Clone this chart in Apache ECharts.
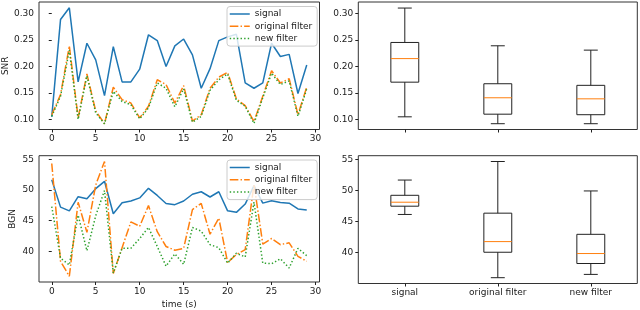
<!DOCTYPE html>
<html><head><meta charset="utf-8">
<script src="https://cdn.jsdelivr.net/npm/echarts@6/dist/echarts.min.js"></script>
<style>html,body{margin:0;padding:0;background:#fff}#c{width:640px;height:310px}</style>
</head><body><div id="c"></div>
<script>
const time = [0,1,2,3,4,5,6,7,8,9,10,11,12,13,14,15,16,17,18,19,20,21,22,23,24,25,26,27,28,29];
const snrSignal = [0.105,0.289,0.311,0.171,0.244,0.2125,0.145,0.2375,0.171,0.171,0.195,0.26,0.249,0.20,0.239,0.252,0.222,0.159,0.196,0.249,0.256,0.261,0.169,0.159,0.169,0.244,0.219,0.223,0.149,0.203];
const snrOriginal = [0.109,0.147,0.239,0.103,0.186,0.116,0.092,0.161,0.1375,0.131,0.103,0.125,0.175,0.166,0.131,0.164,0.097,0.109,0.159,0.18,0.189,0.139,0.126,0.096,0.144,0.192,0.169,0.177,0.109,0.161];
const snrNew = [0.106,0.144,0.231,0.10,0.1825,0.1125,0.092,0.153,0.134,0.128,0.101,0.122,0.169,0.159,0.124,0.158,0.095,0.106,0.155,0.175,0.186,0.136,0.125,0.0925,0.141,0.1875,0.166,0.173,0.106,0.158];
const bgnSignal = [51.65,47.2,46.6,48.9,48.55,50.2,51.4,46.12,47.9,48.2,48.7,50.26,49.1,47.8,47.6,48.2,49.3,49.7,48.85,49.7,46.6,46.35,47.7,50.7,47.85,48.25,47.95,47.85,46.9,46.75];
const bgnOriginal = [54.3,38.4,35.96,48.0,43.1,50.8,54.63,36.4,40.6,44.8,44.1,47.45,43.2,40.8,40.2,40.5,46.8,47.8,42.8,45.4,38.2,39.5,40.3,50.9,41.2,42.1,41.1,41.4,39.2,38.4];
const bgnNew = [47.3,38.9,37.8,45.9,40.1,45.8,49.9,36.5,40.5,40.5,42.1,43.9,40.8,37.6,39.6,37.9,43.9,43.3,41.1,40.6,38.1,39.7,39.1,48.0,38.1,38.0,38.8,37.3,40.5,39.3];

const boxCategories = ['signal','original filter','new filter'];
// [min, q1, median, q3, max]
const snrBoxSignal = [0.105,0.1705,0.215,0.2455,0.3105];
const snrBoxOriginal = [0.092,0.110,0.141,0.1675,0.2392];
const snrBoxNew = [0.092,0.109,0.139,0.1645,0.231];
const bgnBoxSignal = [46.12,47.45,48.09,49.2,51.65];
const bgnBoxOriginal = [35.96,40.05,41.76,46.33,54.63];
const bgnBoxNew = [36.49,38.24,39.84,42.93,49.9];

const xTicks = [0,5,10,15,20,25,30];
const snrTicks = [0.10,0.15,0.20,0.25,0.30];
const bgnTicks = [40,45,50,55];
const seriesNames = ['signal','original filter','new filter'];

const BLUE='#1f77b4', ORANGE='#ff7f0e', GREEN='#2ca02c';
const FONT='DejaVu Sans', TXT='#1a1a1a';
const lw = 1.5;
const dashDot = [8.6,2.2,1.4,2.2];
const dotted = [1.4,2.2];

function padExtent(arrs){
  let lo=Infinity, hi=-Infinity;
  arrs.forEach(a=>a.forEach(v=>{lo=Math.min(lo,v);hi=Math.max(hi,v);}));
  const m=(hi-lo)*0.05; return [lo-m, hi+m];
}
const snrExt = padExtent([snrSignal,snrOriginal,snrNew]);
const bgnExt = padExtent([bgnSignal,bgnOriginal,bgnNew]);
const tExt = padExtent([time]);

function lineSeries(name, vals, color, dash, idx){
  return {type:'line', name, xAxisIndex:idx, yAxisIndex:idx, symbol:'none', showSymbol:false,
    data: time.map((t,i)=>[t, vals[i]]),
    lineStyle:{color, width:lw, type:dash}, itemStyle:{color}, emphasis:{disabled:true}};
}
function boxRender(params, api){
  const ci = api.value(0);
  const lo=api.coord([ci, api.value(1)]), q1=api.coord([ci, api.value(2)]),
        md=api.coord([ci, api.value(3)]), q3=api.coord([ci, api.value(4)]), hi=api.coord([ci, api.value(5)]);
  const band = api.size([1,0])[0];
  const bw = band*0.3, cw = bw/2, cx = lo[0];
  const st = {stroke:'#222', lineWidth:1, fill:null};
  return {type:'group', children:[
    {type:'rect', shape:{x:cx-bw/2, y:q3[1], width:bw, height:q1[1]-q3[1]}, style:{stroke:'#222', lineWidth:1, fill:'none'}},
    {type:'line', shape:{x1:cx,y1:q3[1],x2:cx,y2:hi[1]}, style:st},
    {type:'line', shape:{x1:cx,y1:q1[1],x2:cx,y2:lo[1]}, style:st},
    {type:'line', shape:{x1:cx-cw/2,y1:hi[1],x2:cx+cw/2,y2:hi[1]}, style:st},
    {type:'line', shape:{x1:cx-cw/2,y1:lo[1],x2:cx+cw/2,y2:lo[1]}, style:st},
    {type:'line', shape:{x1:cx-bw/2,y1:md[1],x2:cx+bw/2,y2:md[1]}, style:{stroke:ORANGE, lineWidth:1}}
  ]};
}
function boxSeries(stats, idx){
  return {type:'custom', xAxisIndex:idx, yAxisIndex:idx, renderItem:boxRender,
    encode:{x:0, y:[1,2,3,4,5]},
    data: stats.map((s,i)=>[i, ...s]), silent:true};
}

const axText = {fontFamily:FONT, fontSize:9, color:TXT};
function valueX(idx, showName){
  return {type:'value', gridIndex:idx, min:tExt[0], max:tExt[1],
    splitLine:{show:false}, axisLine:{show:false},
    axisTick:{show:true, length:3, lineStyle:{color:'#222'}, customValues:xTicks},
    axisLabel:Object.assign({margin:5, customValues:xTicks, showMinLabel:true, showMaxLabel:true}, axText),
    name: showName ? 'time (s)' : '', nameLocation:'middle', nameGap:18,
    nameTextStyle:{fontFamily:FONT, fontSize:9, color:TXT}};
}
function catX(idx, showLabels){
  return {type:'category', gridIndex:idx, data:boxCategories, boundaryGap:true,
    splitLine:{show:false}, axisLine:{show:false},
    axisTick:{show:true, length:3, alignWithLabel:true, lineStyle:{color:'#222'}},
    axisLabel:Object.assign({show:showLabels, margin:5, interval:0}, axText)};
}
function valueY(idx, ext, ticks, fmt, name, gap){
  return {type:'value', gridIndex:idx, min:ext[0], max:ext[1],
    splitLine:{show:false}, axisLine:{show:false},
    axisTick:{show:true, length:3, lineStyle:{color:'#222'}, customValues:ticks},
    axisLabel:Object.assign({margin:5, customValues:ticks, formatter:fmt}, axText),
    name:name, nameLocation:'middle', nameRotate:90, nameGap:gap,
    nameTextStyle:{fontFamily:FONT, fontSize:9, color:TXT}};
}
const gridBase = {show:true, borderColor:'#333', borderWidth:1, containLabel:false};
const legendBase = {orient:'vertical', data:seriesNames, itemWidth:20, itemHeight:10, itemGap:3.3,
  padding:[3,5,3,2], backgroundColor:'rgba(255,255,255,0.8)', borderColor:'#cccccc', borderWidth:1, borderRadius:3,
  itemStyle:{opacity:0}, lineStyle:{width:1.5},
  textStyle:{fontFamily:FONT, fontSize:9, color:TXT}, selectedMode:false};

const option = {
  animation:false,
  backgroundColor:'#fff',
  grid:[
    Object.assign({left:39, top:2, width:280.5, height:127.5}, gridBase),
    Object.assign({left:39, top:155.7, width:280.5, height:127.8}, gridBase),
    Object.assign({left:358.3, top:2, width:279, height:127.5}, gridBase),
    Object.assign({left:358.3, top:155.7, width:279, height:127.8}, gridBase)
  ],
  legend:[
    Object.assign({left:227, top:6.5}, legendBase),
    Object.assign({left:227, top:160}, legendBase)
  ],
  xAxis:[valueX(0,false), valueX(1,true), catX(2,false), catX(3,true)],
  yAxis:[
    valueY(0, snrExt, snrTicks, v=>v.toFixed(2), 'SNR', 29),
    valueY(1, bgnExt, bgnTicks, v=>String(v), 'BGN', 22),
    valueY(2, snrExt, snrTicks, v=>v.toFixed(2), '', 0),
    valueY(3, bgnExt, bgnTicks, v=>String(v), '', 0)
  ],
  series:[
    lineSeries('signal', snrSignal, BLUE, 'solid', 0),
    lineSeries('original filter', snrOriginal, ORANGE, dashDot, 0),
    lineSeries('new filter', snrNew, GREEN, dotted, 0),
    lineSeries('signal', bgnSignal, BLUE, 'solid', 1),
    lineSeries('original filter', bgnOriginal, ORANGE, dashDot, 1),
    lineSeries('new filter', bgnNew, GREEN, dotted, 1),
    boxSeries([snrBoxSignal, snrBoxOriginal, snrBoxNew], 2),
    boxSeries([bgnBoxSignal, bgnBoxOriginal, bgnBoxNew], 3)
  ]
};
const chart = echarts.init(document.getElementById('c'), null, {renderer:'canvas'});
chart.setOption(option);
</script></body></html>
